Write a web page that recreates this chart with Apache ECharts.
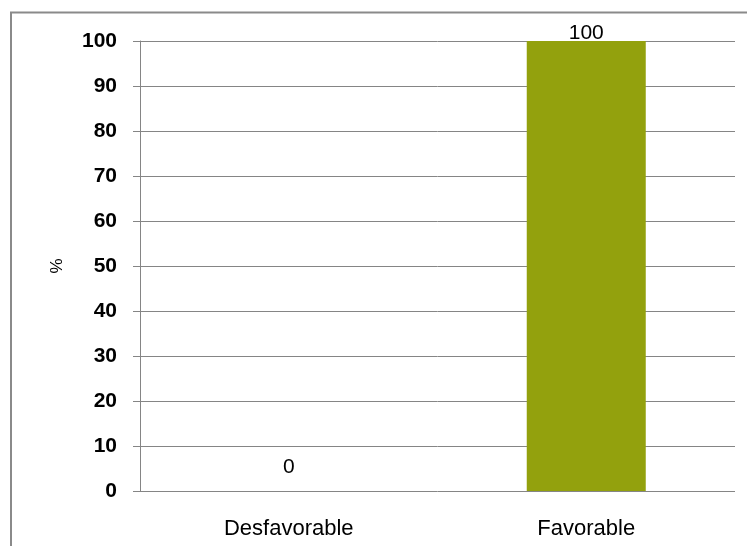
<!DOCTYPE html>
<html>
<head>
<meta charset="utf-8">
<script src="https://cdn.jsdelivr.net/npm/echarts@6/dist/echarts.min.js"></script>
<style>html,body{margin:0;padding:0;background:#fff;}#c{width:747px;height:546px;}</style>
</head>
<body>
<div id="c"></div>
<script>
const categories = ['Desfavorable', 'Favorable'];
const values = [0, 100];
const yTicks = [0, 10, 20, 30, 40, 50, 60, 70, 80, 90, 100];

const chart = echarts.init(document.getElementById('c'), null, {renderer: 'canvas'});
const font = '"Liberation Sans", Arial, sans-serif';
chart.setOption({
  animation: false,
  backgroundColor: '#ffffff',
  graphic: [{
    type: 'rect',
    shape: {x: 11, y: 12.5, width: 900, height: 700},
    style: {fill: 'none', stroke: '#8a8a8a', lineWidth: 2},
    silent: true
  }],
  grid: {left: 140, right: 12, top: 41, bottom: 55},
  xAxis: {
    type: 'category',
    data: categories,
    axisLine: {show: false},
    axisTick: {show: false},
    axisLabel: {fontFamily: font, fontSize: 22, color: '#000', margin: 27}
  },
  yAxis: {
    type: 'value',
    min: yTicks[0],
    max: yTicks[yTicks.length - 1],
    interval: 10,
    name: '%',
    nameLocation: 'middle',
    nameRotate: 90,
    nameGap: 74,
    nameTextStyle: {fontFamily: font, fontSize: 17, color: '#000'},
    axisLine: {show: true, lineStyle: {color: '#858585', width: 1}},
    axisTick: {show: true, length: 7, lineStyle: {color: '#858585'}},
    splitLine: {show: true, lineStyle: {color: '#858585', width: 1}},
    axisLabel: {fontFamily: font, fontSize: 21, fontWeight: 'bold', color: '#000', margin: 23}
  },
  series: [{
    type: 'bar',
    data: values.map((v, i) => ({
      value: v,
      label: {distance: v === 0 ? 13 : -2.5}
    })),
    barWidth: '40%',
    itemStyle: {color: '#93A10D'},
    label: {show: true, position: 'top', fontFamily: font, fontSize: 21, color: '#000'}
  }]
});
</script>
</body>
</html>
